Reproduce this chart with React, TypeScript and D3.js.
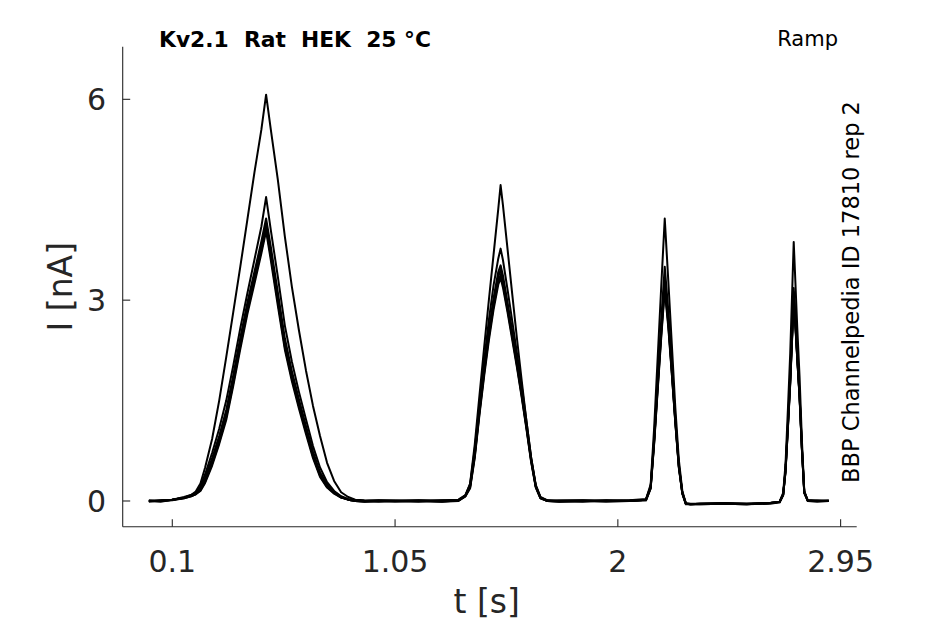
import React from "react";
import * as d3 from "d3";

// ---- data ----
const TITLE = "Kv2.1  Rat  HEK  25 °C";
const PROTOCOL = "Ramp";
const SOURCE = "BBP Channelpedia ID 17810 rep 2";
const X_LABEL = "t [s]";
const Y_LABEL = "I [nA]";
const X_TICKS = [0.1, 1.05, 2, 2.95];
const X_TICK_LABELS = ["0.1", "1.05", "2", "2.95"];
const Y_TICKS = [0, 3, 6];
const X_DOMAIN = [-0.1115, 3.0186];
const Y_DOMAIN = [-0.384, 6.786];

// time points (s)
const TIMES = [
  // ramp 1
  0, 0.05, 0.1, 0.15, 0.18, 0.2, 0.22, 0.24, 0.27, 0.3, 0.33, 0.36, 0.39, 0.42, 0.45, 0.48, 0.5, 0.52, 0.55, 0.58, 0.61, 0.64, 0.67, 0.7, 0.73, 0.76, 0.79, 0.82, 0.85, 0.88, 0.92, 0.98,
  1.05, 1.15, 1.25, 1.32,
  // ramp 2
  1.35, 1.37, 1.39, 1.41, 1.43, 1.45, 1.47, 1.49, 1.5, 1.51, 1.53, 1.55, 1.57, 1.59, 1.61, 1.63, 1.65, 1.67, 1.7, 1.75,
  1.85, 1.95, 2.05, 2.12,
  // ramp 3
  2.14, 2.155, 2.17, 2.185, 2.2, 2.215, 2.23, 2.245, 2.26, 2.275, 2.29, 2.31, 2.35,
  2.45, 2.55, 2.65, 2.69,
  // ramp 4
  2.705, 2.715, 2.725, 2.735, 2.745, 2.75, 2.755, 2.765, 2.775, 2.785, 2.795, 2.81, 2.85, 2.9,
];

// current (nA) per sweep
const SWEEP_A = [
  0, 0, 0.02, 0.05, 0.09, 0.14, 0.26, 0.5, 0.93, 1.5, 2.15, 2.82, 3.5, 4.2, 4.9, 5.55, 6.07, 5.55, 4.8, 3.95, 3.2, 2.55, 1.95, 1.42, 0.97, 0.57, 0.3, 0.13, 0.06, 0.02, 0.01, 0,
  0, 0.01, 0, 0.01,
  0.08, 0.26, 0.85, 1.58, 2.3, 3.0, 3.68, 4.36, 4.72, 4.42, 3.75, 3.08, 2.42, 1.8, 1.2, 0.65, 0.24, 0.06, 0.01, 0,
  0, 0.01, 0, 0.02,
  0.25, 1.1, 2.15, 3.2, 4.22, 3.3, 2.35, 1.4, 0.62, 0.15, -0.03, -0.04, -0.04,
  -0.04, -0.05, -0.03, -0.01,
  0.12, 0.55, 1.35, 2.2, 3.3, 3.87, 3.45, 2.6, 1.85, 0.9, 0.15, 0, 0, 0,
];
const SWEEP_B = [
  0, 0.01, 0.02, 0.05, 0.08, 0.12, 0.22, 0.4, 0.72, 1.08, 1.5, 2.02, 2.58, 3.1, 3.6, 4.1, 4.54, 4.05, 3.35, 2.62, 2.08, 1.63, 1.22, 0.82, 0.5, 0.28, 0.15, 0.07, 0.03, 0.01, 0, 0.01,
  0.01, 0, 0.01, 0.02,
  0.09, 0.25, 0.78, 1.45, 2.1, 2.7, 3.22, 3.62, 3.77, 3.6, 3.15, 2.68, 2.2, 1.72, 1.2, 0.66, 0.23, 0.05, 0, 0.01,
  0.01, 0, 0.01, 0.03,
  0.22, 0.95, 1.82, 2.7, 3.5, 2.85, 2.05, 1.25, 0.55, 0.13, -0.04, -0.05, -0.04,
  -0.03, -0.04, -0.03, -0.01,
  0.1, 0.48, 1.15, 1.85, 2.7, 3.18, 2.85, 2.2, 1.6, 0.8, 0.14, 0.01, 0, 0.01,
];
const SWEEP_C = [
  0, 0, 0.02, 0.05, 0.08, 0.11, 0.18, 0.32, 0.6, 0.92, 1.3, 1.82, 2.38, 2.9, 3.35, 3.82, 4.15, 3.72, 3.05, 2.36, 1.88, 1.47, 1.08, 0.7, 0.4, 0.23, 0.13, 0.06, 0.02, 0, -0.01, 0,
  -0.01, 0, -0.01, 0,
  0.08, 0.22, 0.7, 1.35, 1.95, 2.5, 2.97, 3.35, 3.45, 3.3, 2.9, 2.48, 2.05, 1.6, 1.12, 0.62, 0.22, 0.05, 0, -0.01,
  0, -0.01, 0, 0.02,
  0.2, 0.9, 1.72, 2.52, 3.25, 2.68, 1.95, 1.2, 0.52, 0.12, -0.04, -0.05, -0.05,
  -0.04, -0.05, -0.04, -0.02,
  0.09, 0.45, 1.1, 1.78, 2.62, 3.1, 2.78, 2.15, 1.56, 0.78, 0.13, 0, -0.01, 0,
];
const SWEEP_D = [
  -0.01, 0.01, 0.02, 0.06, 0.09, 0.12, 0.2, 0.35, 0.64, 0.97, 1.36, 1.88, 2.44, 2.96, 3.42, 3.88, 4.22, 3.8, 3.12, 2.43, 1.94, 1.52, 1.12, 0.74, 0.43, 0.25, 0.14, 0.06, 0.02, 0.01, 0, -0.01,
  0, 0.01, 0, 0.01,
  0.08, 0.23, 0.72, 1.38, 1.99, 2.55, 3.03, 3.42, 3.52, 3.37, 2.96, 2.53, 2.09, 1.63, 1.14, 0.63, 0.22, 0.05, 0.01, 0,
  0.01, 0, 0, 0.02,
  0.21, 0.92, 1.76, 2.58, 3.32, 2.73, 1.98, 1.22, 0.53, 0.12, -0.04, -0.05, -0.04,
  -0.03, -0.04, -0.03, -0.01,
  0.1, 0.46, 1.12, 1.8, 2.64, 3.12, 2.8, 2.17, 1.57, 0.79, 0.13, 0.01, 0, 0,
];
const SWEEP_E = [
  0.01, 0, 0.01, 0.04, 0.07, 0.1, 0.16, 0.29, 0.56, 0.88, 1.25, 1.76, 2.32, 2.84, 3.29, 3.75, 4.08, 3.66, 2.98, 2.3, 1.83, 1.42, 1.04, 0.67, 0.38, 0.21, 0.12, 0.05, 0.02, 0, 0, 0.01,
  0, -0.01, 0.01, 0,
  0.07, 0.2, 0.67, 1.32, 1.91, 2.45, 2.91, 3.28, 3.38, 3.24, 2.85, 2.44, 2.02, 1.57, 1.1, 0.6, 0.21, 0.04, 0, 0,
  -0.01, 0.01, 0, 0.01,
  0.19, 0.88, 1.69, 2.48, 3.2, 2.64, 1.92, 1.18, 0.51, 0.11, -0.05, -0.05, -0.04,
  -0.04, -0.05, -0.03, -0.02,
  0.09, 0.44, 1.08, 1.76, 2.6, 3.08, 2.76, 2.13, 1.55, 0.77, 0.12, 0, 0.01, 0,
];
const SWEEP_F = [
  0, -0.01, 0.02, 0.04, 0.07, 0.1, 0.15, 0.27, 0.53, 0.85, 1.21, 1.72, 2.27, 2.79, 3.24, 3.7, 4.03, 3.6, 2.92, 2.26, 1.79, 1.38, 1.0, 0.64, 0.36, 0.2, 0.11, 0.05, 0.02, 0, -0.01, 0,
  0, 0, -0.01, 0.01,
  0.07, 0.19, 0.65, 1.29, 1.87, 2.4, 2.86, 3.23, 3.33, 3.19, 2.81, 2.4, 1.99, 1.55, 1.08, 0.59, 0.2, 0.04, 0, -0.01,
  0, 0, 0.01, 0.01,
  0.19, 0.86, 1.66, 2.44, 3.15, 2.6, 1.9, 1.17, 0.5, 0.11, -0.04, -0.05, -0.05,
  -0.04, -0.04, -0.03, -0.01,
  0.09, 0.43, 1.07, 1.74, 2.57, 3.05, 2.74, 2.12, 1.54, 0.76, 0.12, 0.01, 0, 0,
];
const SWEEPS = [SWEEP_F, SWEEP_E, SWEEP_C, SWEEP_D, SWEEP_B, SWEEP_A];

// ---- layout ----
const W = 945;
const H = 624;
const LEFT = 122.7;
const RIGHT = 856.7;
const TOP = 46.7;
const BOTTOM = 526.7;
const AXIS_COLOR = "#262626";
const FONT = "DejaVu Sans, sans-serif";

export default function App() {
  const x = d3.scaleLinear().domain(X_DOMAIN).range([LEFT, RIGHT]);
  const y = d3.scaleLinear().domain(Y_DOMAIN).range([BOTTOM, TOP]);
  const line = d3
    .line<[number, number]>()
    .x((d) => x(d[0]))
    .y((d) => y(d[1]))
    .curve(d3.curveLinear);

  const paths = SWEEPS.map((vals) =>
    line(
      TIMES.map((t, i) => [t, vals[i]] as [number, number]).filter(
        (d) => d[1] !== undefined
      )
    )
  );

  return (
    <svg
      width={W}
      height={H}
      style={{ position: "absolute", left: 0, top: 0, background: "#fff" }}
      fontFamily={FONT}
    >
      <rect x={0} y={0} width={W} height={H} fill="#fff" />
      {/* traces */}
      <g fill="none" stroke="#000" strokeWidth={2} strokeLinejoin="round">
        {paths.map((p, i) => (
          <path key={i} d={p || ""} />
        ))}
      </g>
      {/* axes */}
      <g stroke={AXIS_COLOR} strokeWidth={1.1} fill="none">
        <line x1={LEFT} x2={RIGHT} y1={BOTTOM} y2={BOTTOM} />
        <line x1={LEFT} x2={LEFT} y1={TOP} y2={BOTTOM} />
        {X_TICKS.map((t) => (
          <line key={t} x1={x(t)} x2={x(t)} y1={BOTTOM} y2={BOTTOM - 7.5} />
        ))}
        {Y_TICKS.map((v) => (
          <line key={v} x1={LEFT} x2={LEFT + 7.5} y1={y(v)} y2={y(v)} />
        ))}
      </g>
      <g fill={AXIS_COLOR} fontSize={30}>
        {X_TICKS.map((t, i) => (
          <text key={t} x={x(t)} y={572} textAnchor="middle">
            {X_TICK_LABELS[i]}
          </text>
        ))}
        {Y_TICKS.map((v) => (
          <text key={v} x={106} y={y(v) + 11} textAnchor="end">
            {v}
          </text>
        ))}
      </g>
      <text
        x={(LEFT + RIGHT) / 2 - 3}
        y={613}
        textAnchor="middle"
        fontSize={33}
        fill={AXIS_COLOR}
      >
        {X_LABEL}
      </text>
      <text
        transform={`translate(72, ${(TOP + BOTTOM) / 2}) rotate(-90)`}
        textAnchor="middle"
        fontSize={33}
        fill={AXIS_COLOR}
      >
        {Y_LABEL}
      </text>
      <text
        x={159}
        y={46.5}
        fontSize={21.8}
        fontWeight="bold"
        fill="#000"
        style={{ whiteSpace: "pre" }}
        xmlSpace="preserve"
      >
        {TITLE}
      </text>
      <text x={838} y={46} fontSize={21} textAnchor="end" fill="#000">
        {PROTOCOL}
      </text>
      <text
        transform={`translate(859, 292) rotate(-90)`}
        textAnchor="middle"
        fontSize={22.5}
        fill="#000"
      >
        {SOURCE}
      </text>
    </svg>
  );
}
